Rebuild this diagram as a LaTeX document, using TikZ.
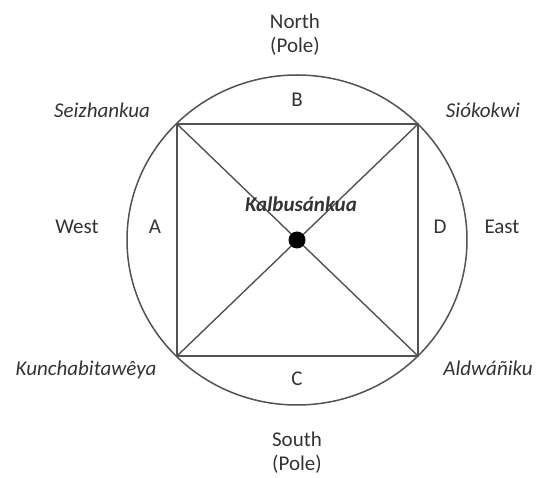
\documentclass[tikz,border=0pt]{standalone}
\usepackage{fontspec}
\setmainfont{Carlito}
\begin{document}
\begin{tikzpicture}[x=1pt,y=-1pt,
  lbl/.style={font=\fontsize{21}{24}\selectfont, text=black!80, inner sep=0pt, anchor=base},
  ilbl/.style={lbl, font=\fontsize{21}{24}\selectfont\itshape},
  edge/.style={draw=black!68, line width=1.8pt}]
\useasboundingbox (0,0) rectangle (539,478);
\coordinate (O) at (297,240);
\coordinate (NW) at (177,124);
\coordinate (NE) at (418,124);
\coordinate (SW) at (177,356);
\coordinate (SE) at (418,356);
\draw[edge, line width=1.5pt] (O) ellipse (170 and 165);
\draw[edge] (NW) -- (NE) -- (SE) -- (SW) -- cycle;
\draw[edge, line width=1.4pt] (NW) -- (SE);
\draw[edge, line width=1.4pt] (NE) -- (SW);
\node[lbl, font=\fontsize{21}{24}\selectfont\bfseries\itshape] (k) at (301,212) {Kalbusánkua};
\fill[black] (O) circle (8.5) node (dot) {};
\node[lbl] (north) at (295,29) {North};
\node[lbl] (np) at (295,53) {(Pole)};
\node[lbl] (south) at (297,447) {South};
\node[lbl] (sp) at (297,471) {(Pole)};
\node[lbl] (west) at (77,234) {West};
\node[lbl] (east) at (502,234) {East};
\node[lbl] (a) at (155,234) {A};
\node[lbl] (d) at (440,234) {D};
\node[lbl] (b) at (297,107) {B};
\node[lbl] (c) at (297,386) {C};
\node[ilbl] (sei) at (102,118) {Seizhankua};
\node[ilbl] (sio) at (483,118) {Siókokwi};
\node[ilbl] (kun) at (86,376) {Kunchabitawêya};
\node[ilbl] (ald) at (488,376) {Aldwáñiku};
\end{tikzpicture}
\end{document}
